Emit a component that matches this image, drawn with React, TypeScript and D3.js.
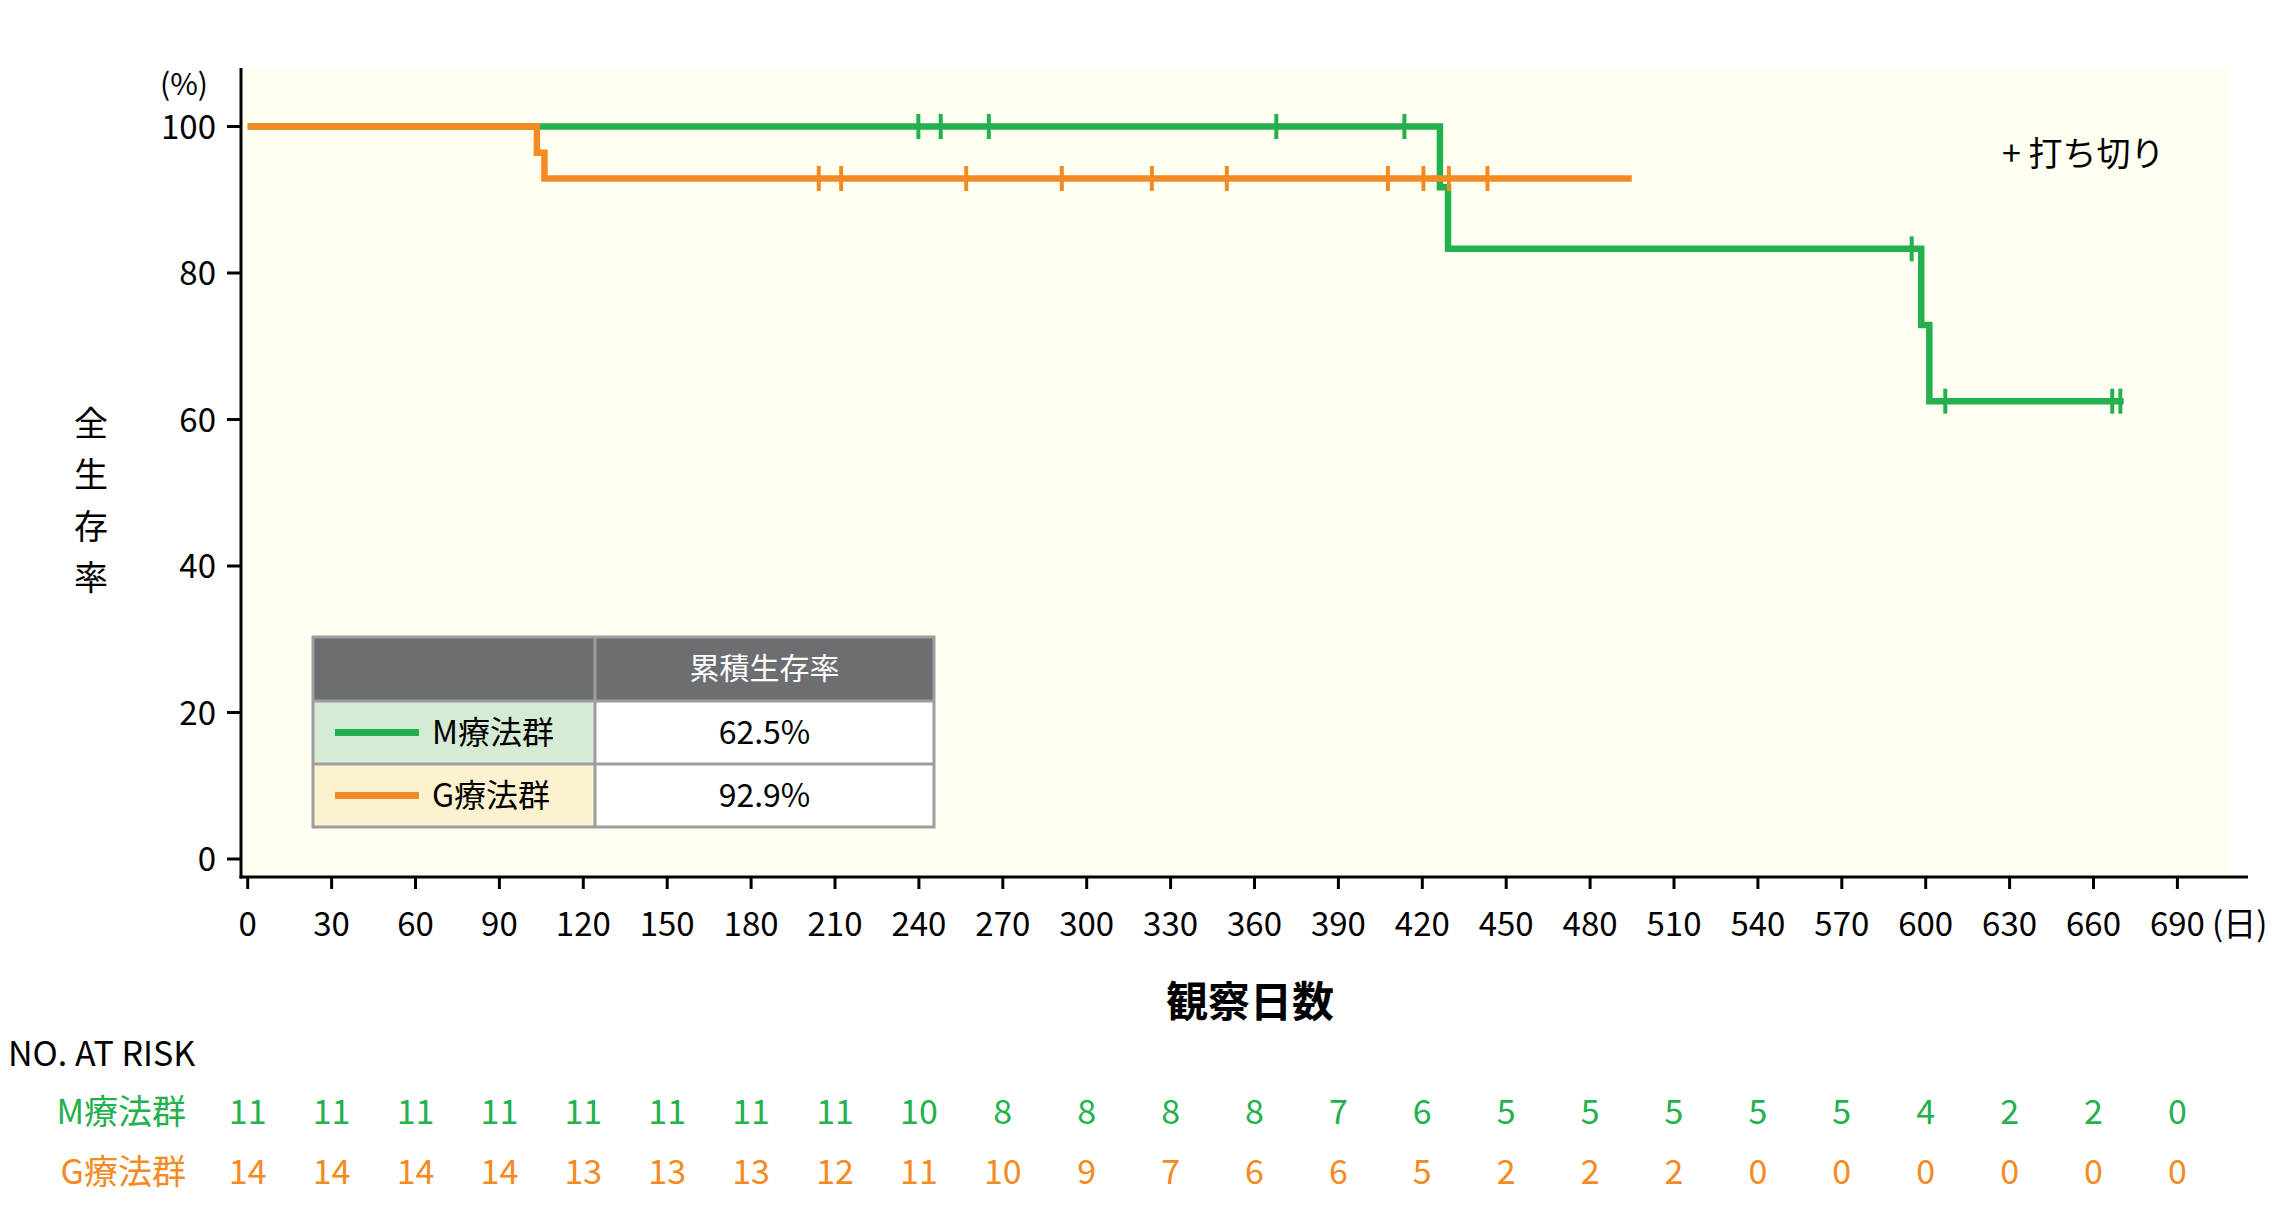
import React from "react";
import * as d3 from "d3";

const W = 2280;
const H = 1232;

const xTicks = [0, 30, 60, 90, 120, 150, 180, 210, 240, 270, 300, 330, 360, 390, 420, 450, 480, 510, 540, 570, 600, 630, 660, 690];
const yTicks = [0, 20, 40, 60, 80, 100];

// Kaplan-Meier steps: [day, survival %]
const mCurve: [number, number][] = [
  [0, 100], [426.3, 91.7], [429.2, 83.3], [598.4, 72.9], [601.3, 62.5], [670.8, 62.5],
];
const gCurve: [number, number][] = [
  [0, 100], [103.4, 96.4], [106.1, 92.9], [494.9, 92.9],
];
// censoring marks (days)
const mCensor = [239.8, 247.8, 265.0, 367.8, 413.6, 595.0, 607.0, 666.7, 669.6];
const gCensor = [204.2, 212.2, 256.9, 291.1, 323.3, 350.1, 407.7, 420.4, 429.5, 443.3];

// number at risk at each x tick
const mRisk = [11, 11, 11, 11, 11, 11, 11, 11, 10, 8, 8, 8, 8, 7, 6, 5, 5, 5, 5, 5, 4, 2, 2, 0];
const gRisk = [14, 14, 14, 14, 13, 13, 13, 12, 11, 10, 9, 7, 6, 6, 5, 2, 2, 2, 0, 0, 0, 0, 0, 0];

const groupNames = ["M療法群", "G療法群"];
const cumSurvival = ["62.5%", "92.9%"];

const GREEN = "#23B14D";
const ORANGE = "#F48A22";
const FONT = "'Noto Sans CJK JP', 'Noto Sans', sans-serif";

export default function App() {
  const x = d3.scaleLinear().domain([0, 690]).range([247.7, 2177.4]);
  const y = d3.scaleLinear().domain([0, 100]).range([859, 126.5]);

  const line = d3
    .line<[number, number]>()
    .x((d) => x(d[0]))
    .y((d) => y(d[1]))
    .curve(d3.curveStepAfter);

  const survAt = (curve: [number, number][], t: number) => {
    let s = curve[0][1];
    for (const [ct, cs] of curve) if (ct <= t) s = cs;
    return s;
  };

  const plotLeft = 241;
  const plotTop = 68;
  const plotRight = 2228;
  const axisY = 877;
  const axisRight = 2248;

  // legend table geometry
  const lx0 = 313, lx1 = 595, lx2 = 934;
  const ly0 = 637, ly1 = 701, ly2 = 764, ly3 = 827;
  const border = "#9d9d9d";

  return (
    <svg
      width={W}
      height={H}
      style={{ position: "absolute", left: 0, top: 0, display: "block", background: "#fff" }}
      fontFamily={FONT}
    >
      <rect x={0} y={0} width={W} height={H} fill="#fff" />
      {/* plot background */}
      <rect x={plotLeft} y={plotTop} width={plotRight - plotLeft} height={axisY - plotTop} fill="#FFFFF2" />

      {/* curves */}
      <path d={line(mCurve) || ""} fill="none" stroke={GREEN} strokeWidth={6.5} strokeLinejoin="miter" strokeLinecap="butt" />
      {mCensor.map((t, i) => (
        <line key={"mc" + i} x1={x(t)} x2={x(t)} y1={y(survAt(mCurve, t)) - 12.5} y2={y(survAt(mCurve, t)) + 12.5} stroke={GREEN} strokeWidth={4} />
      ))}
      <path d={line(gCurve) || ""} fill="none" stroke={ORANGE} strokeWidth={6.5} strokeLinejoin="miter" strokeLinecap="butt" />
      {gCensor.map((t, i) => (
        <line key={"gc" + i} x1={x(t)} x2={x(t)} y1={y(survAt(gCurve, t)) - 12.5} y2={y(survAt(gCurve, t)) + 12.5} stroke={ORANGE} strokeWidth={4} />
      ))}

      {/* axes */}
      <line x1={plotLeft} x2={plotLeft} y1={plotTop} y2={axisY + 1.5} stroke="#000" strokeWidth={3} />
      <line x1={plotLeft - 1.5} x2={axisRight} y1={axisY} y2={axisY} stroke="#000" strokeWidth={3} />
      {yTicks.map((t) => (
        <g key={"yt" + t}>
          <line x1={227} x2={plotLeft} y1={y(t)} y2={y(t)} stroke="#000" strokeWidth={3} />
          <text x={216} y={y(t) - 2} textAnchor="end" dominantBaseline="central" fontSize={33} fill="#000">
            {t}
          </text>
        </g>
      ))}
      {xTicks.map((t) => (
        <g key={"xt" + t}>
          <line x1={x(t)} x2={x(t)} y1={axisY} y2={889} stroke="#000" strokeWidth={3} />
          <text x={x(t)} y={936} textAnchor="middle" fontSize={33} fill="#000">
            {t}
          </text>
        </g>
      ))}
      <text x={2212} y={936} fontSize={33} fill="#000">(日)</text>
      <text x={184} y={82} textAnchor="middle" dominantBaseline="central" fontSize={30} fill="#000">(%)</text>

      {/* axis titles */}
      {["全", "生", "存", "率"].map((c, i) => (
        <text key={"yl" + i} x={91} y={421 + i * 51.5} textAnchor="middle" dominantBaseline="central" fontSize={34} fill="#000">
          {c}
        </text>
      ))}
      <text x={1250} y={998} textAnchor="middle" dominantBaseline="central" fontSize={42} fontWeight="bold" fill="#000">
        観察日数
      </text>

      {/* censor legend */}
      <text x={2002} y={151} dominantBaseline="central" fontSize={34} fill="#000">+ 打ち切り</text>

      {/* legend table */}
      <rect x={lx0} y={ly0} width={lx2 - lx0} height={ly1 - ly0} fill="#6D6E71" />
      <rect x={lx0} y={ly1} width={lx1 - lx0} height={ly2 - ly1} fill="#D6EBD5" />
      <rect x={lx0} y={ly2} width={lx1 - lx0} height={ly3 - ly2} fill="#FDF2D0" />
      <rect x={lx1} y={ly1} width={lx2 - lx1} height={ly3 - ly1} fill="#fff" />
      <rect x={lx0} y={ly0} width={lx2 - lx0} height={ly3 - ly0} fill="none" stroke={border} strokeWidth={3} />
      <line x1={lx0} x2={lx2} y1={ly1} y2={ly1} stroke={border} strokeWidth={3} />
      <line x1={lx0} x2={lx2} y1={ly2} y2={ly2} stroke={border} strokeWidth={3} />
      <line x1={lx1} x2={lx1} y1={ly0} y2={ly3} stroke={border} strokeWidth={3} />
      <text x={(lx1 + lx2) / 2} y={(ly0 + ly1) / 2 - 3} textAnchor="middle" dominantBaseline="central" fontSize={30} fill="#fff">
        累積生存率
      </text>
      {[GREEN, ORANGE].map((c, i) => {
        const cy = i === 0 ? (ly1 + ly2) / 2 : (ly2 + ly3) / 2;
        return (
          <g key={"lg" + i}>
            <line x1={335} x2={419} y1={cy} y2={cy} stroke={c} strokeWidth={7} />
            <text x={432} y={cy - 3} dominantBaseline="central" fontSize={32} fill="#000">
              {groupNames[i]}
            </text>
            <text x={(lx1 + lx2) / 2} y={cy - 3} textAnchor="middle" dominantBaseline="central" fontSize={32} fill="#000">
              {cumSurvival[i]}
            </text>
          </g>
        );
      })}

      {/* number at risk */}
      <text x={8} y={1066} fontSize={34} fill="#000">NO. AT RISK</text>
      {[mRisk, gRisk].map((row, r) => {
        const by = r === 0 ? 1124 : 1184;
        const col = r === 0 ? GREEN : ORANGE;
        return (
          <g key={"rk" + r}>
            <text x={186} y={by} textAnchor="end" fontSize={34} fill={col}>
              {groupNames[r]}
            </text>
            {row.map((v, i) => (
              <text key={i} x={x(xTicks[i])} y={by} textAnchor="middle" fontSize={34} fill={col}>
                {v}
              </text>
            ))}
          </g>
        );
      })}
    </svg>
  );
}
